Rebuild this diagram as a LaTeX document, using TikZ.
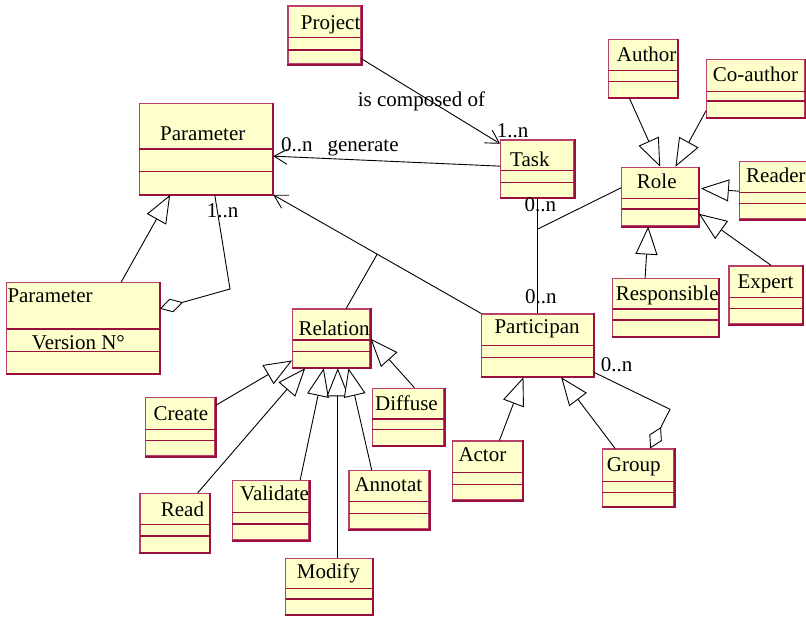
\documentclass[tikz,border=0pt]{standalone}
\usepackage{fontspec}
\setmainfont{Liberation Serif}
\usetikzlibrary{arrows.meta,calc,fit}
\definecolor{clsfill}{HTML}{FFFFCC}
\definecolor{clsline}{HTML}{9B0F3F}
\definecolor{clslight}{HTML}{B8406A}
\newcommand{\umlclass}[7]{%
  \node[clsbox, fit={(#2,#3) (#4,#5)}] (#1) {};
  \draw[divline] (#2,#6) -- (#4,#6);
  \draw[divline] (#2,#7) -- (#4,#7);
  \draw[edgeline] (#1.north east) -- (#1.south east) -- (#1.south west);
}
\tikzset{
  clsbox/.style={draw=clslight, fill=clsfill, line width=1.1pt, inner sep=0pt, rectangle},
  divline/.style={draw=clsline, line width=1.1pt},
  edgeline/.style={draw=clsline, line width=2pt},
  lbl/.style={anchor=base west, inner sep=0pt, font=\fontsize{21}{25}\selectfont},
  conn/.style={draw=black, line width=0.9pt},
  genarrow/.style={conn, -{Triangle[open, length=28pt, width=22pt, line width=0.9pt, fill=white]}},
  navarrow/.style={conn, -{Straight Barb[length=13pt, width=15pt, line width=0.9pt]}},
  aggarrow/.style={conn, -{Diamond[open, length=24pt, width=14pt, line width=0.9pt, fill=white]}},
}
\begin{document}
\begin{tikzpicture}[x=1pt, y=-1pt]
\useasboundingbox[fill=white] (0,0) rectangle (806,616);

% ---------- class boxes ----------
\umlclass{project}{288}{6}{361}{64}{37.7}{50}
\umlclass{param}{139.3}{103.3}{272.7}{194.3}{149}{171.7}
\umlclass{task}{500.7}{140}{574}{197.7}{170.7}{182.7}
\umlclass{author}{608.3}{39.3}{677.3}{97.7}{70.7}{81.7}
\umlclass{coauthor}{706.7}{59.3}{805}{117.7}{91.7}{101}
\umlclass{role}{621.7}{167.3}{698.3}{226}{198.3}{209}
\umlclass{reader}{739.3}{161.7}{812}{219}{192.3}{203.3}
\umlclass{paramv}{6.7}{282.7}{159.3}{373.3}{329}{351.7}
\umlclass{relation}{292.7}{309}{370}{367.7}{340}{351.7}
\umlclass{particip}{481.7}{314}{593.3}{376.7}{345.7}{357.3}
\umlclass{respons}{612.7}{278.3}{718.3}{336.7}{309}{320}
\umlclass{expert}{729}{266}{802.7}{324}{297.3}{308.3}
\umlclass{create}{145.7}{397.7}{215}{456}{429.3}{440.7}
\umlclass{read}{140}{493.3}{209.3}{552.3}{524.3}{536}
\umlclass{validate}{232.3}{480.7}{309}{540}{512.3}{524}
\umlclass{annotat}{349}{470.7}{429}{529}{501.7}{513.3}
\umlclass{diffuse}{372.3}{388.3}{444}{445.7}{419}{429.3}
\umlclass{modify}{285.7}{558.3}{372.3}{614.8}{588.3}{599}
\umlclass{actor}{452.3}{441}{522.7}{500}{472.3}{484.3}
\umlclass{group}{602.3}{449}{674}{506.7}{481.7}{492.7}

% ---------- class names ----------
\node[lbl] (projectT)  at (300.7,29.3) {Project};
\node[lbl] (paramT)    at (160,140)    {Parameter};
\node[lbl] (taskT)     at (510,166.7)  {Task};
\node[lbl] (authorT)   at (616.7,61)   {Author};
\node[lbl] (coauthorT) at (712.7,81.7) {Co-author};
\node[lbl] (roleT)     at (636.7,188.3){Role};
\node[lbl] (readerT)   at (746,182.7)  {Reader};
\node[lbl] (paramvT)   at (7.3,302.7)  {Parameter};
\node[lbl] (versionT)  at (31.7,349.3) {Version N°};
\node[lbl] (relationT) at (298.3,335)  {Relation};
\node[lbl] (participT) at (494.3,333.3){Participan};
\node[lbl] (responsT)  at (615.7,300)  {Responsible};
\node[lbl] (expertT)   at (737.3,288.3){Expert};
\node[lbl] (createT)   at (153.3,420)  {Create};
\node[lbl] (readT)     at (160.7,516.7){Read};
\node[lbl] (validateT) at (240,500.7)  {Validate};
\node[lbl] (annotatT)  at (354.3,491.7){Annotat};
\node[lbl] (diffuseT)  at (375,410)    {Diffuse};
\node[lbl] (modifyT)   at (296.7,578.3){Modify};
\node[lbl] (actorT)    at (458.3,461.7){Actor};
\node[lbl] (groupT)    at (606.7,471)  {Group};

% ---------- association labels ----------
\node[lbl] (composedL) at (357.7,106)   {is composed of};
\node[lbl] (mTask)     at (496.7,137.5) {1..n};
\node[lbl] (mGen)      at (281,151.7)   {0..n};
\node[lbl] (generateL) at (327.3,151.7) {generate};
\node[lbl] (mParam)    at (206.7,217.3) {1..n};
\node[lbl] (mTaskB)    at (524.3,211.7) {0..n};
\node[lbl] (mPartT)    at (525,303.3)   {0..n};
\node[lbl] (mPartR)    at (600.7,371.7) {0..n};

% ---------- connectors ----------
% Project -> Task
\draw[navarrow] ($(project.north west)+(73.5,53)$) -- ($(task.north west)+(0,4.3)$);
% Task -> Parameter
\draw[navarrow] ($(task.north west)+(0,26.7)$) -- ($(param.north east)+(0,53.4)$);
% Participan -> Parameter, with Relation attached
\draw[navarrow] (particip.north west) -- (param.south east);
\coordinate (relj) at ($(particip.north west)!0.5!(param.south east)$);
\draw[conn] (relj) -- ($(relation.north west)+(54,0)$);
% Task -- Participan, with Role attached
\coordinate (taskb) at ($(task.south west)+(37,0)$);
\coordinate (partt) at ($(particip.north west)+(56,0)$);
\draw[conn] (taskb) -- (partt);
\coordinate (rolej) at ($(taskb)!0.27!(partt)$);
\draw[conn] ($(role.north west)+(0,21)$) -- (rolej);
% Role specialisations
\draw[genarrow] ($(author.south west)+(21.7,0)$) -- ($(role.north west)+(39,0)$);
\draw[genarrow] ($(coauthor.south west)+(0,-7.7)$) -- ($(role.north west)+(54.3,0)$);
\draw[genarrow] ($(reader.north west)+(0,30)$) -- ($(role.north east)+(2,21.7)$);
\draw[genarrow] ($(expert.north west)+(42.7,0)$) -- ($(role.north east)+(0,47)$);
\draw[genarrow] ($(respons.north west)+(33,0)$) -- ($(role.south west)+(27,0)$);
% Parameter version
\draw[genarrow] ($(paramv.north west)+(115,0)$) -- ($(param.south west)+(31.4,0)$);
\coordinate (aggbendA) at (230,289);
\draw[aggarrow] ($(param.south west)+(76,0)$) -- (aggbendA) -- ($(paramv.north east)+(0,26.6)$);
% Relation specialisations
\draw[genarrow] ($(create.north east)+(0,8.3)$) -- ($(relation.north west)+(0,52)$);
\draw[genarrow] ($(read.north west)+(58.3,0)$) -- ($(relation.south west)+(13,0)$);
\draw[genarrow] ($(validate.north west)+(68.4,0)$) -- ($(relation.south west)+(31.6,0)$);
\draw[genarrow] ($(modify.north west)+(52.6,0)$) -- ($(relation.south west)+(45.6,0)$);
\draw[genarrow] ($(annotat.north west)+(23.3,0)$) -- ($(relation.south west)+(56.3,0)$);
\draw[genarrow] ($(diffuse.north west)+(42.7,0)$) -- ($(relation.north east)+(0,30.3)$);
% Participan specialisations
\draw[genarrow] ($(actor.north west)+(47.7,0)$) -- ($(particip.south west)+(42.3,0)$);
\draw[genarrow] ($(group.north west)+(13.4,0)$) -- ($(particip.south west)+(80,0)$);
\coordinate (aggbendB) at (670,409.3);
\draw[aggarrow] ($(particip.south east)+(0,-5)$) -- (aggbendB) -- ($(group.north west)+(48.4,0)$);
\end{tikzpicture}
\end{document}
